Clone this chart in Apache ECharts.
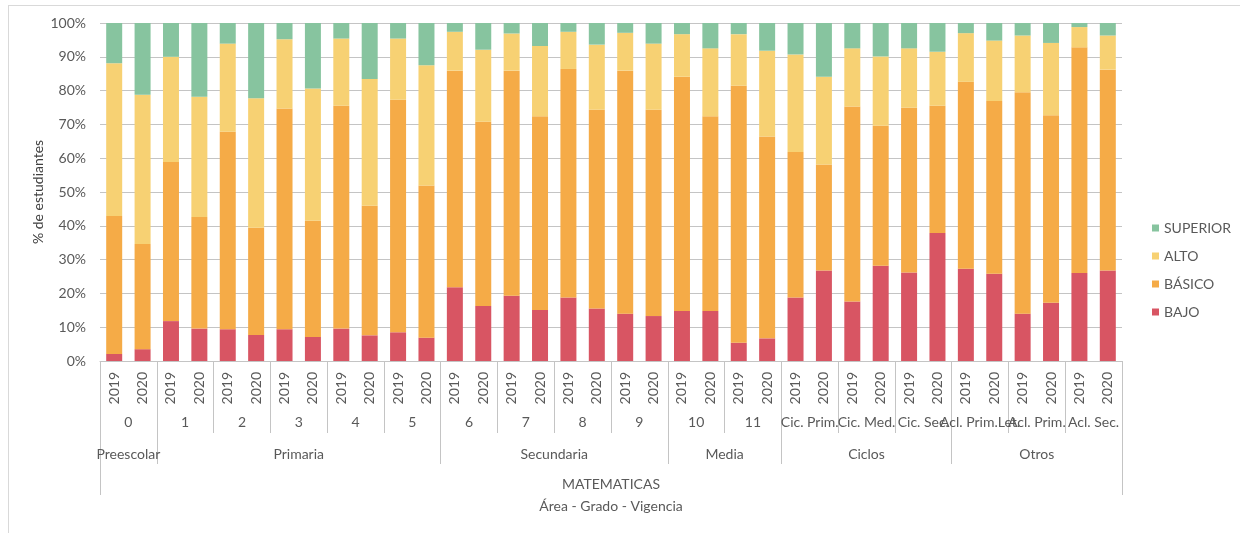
<!DOCTYPE html>
<html>
<head>
<meta charset="utf-8">
<script src="https://cdn.jsdelivr.net/npm/echarts@6/dist/echarts.min.js"></script>
<style>
  html, body { margin: 0; padding: 0; background: #fff; }
  #chart { width: 1240px; height: 533px; }
</style>
</head>
<body>
<div id="chart"></div>
<script>
// Desempeño en MATEMATICAS por nivel, grado y vigencia (% de estudiantes)
const years = ['2019', '2020'];
const grades = ['0', '1', '2', '3', '4', '5', '6', '7', '8', '9', '10', '11',
  'Cic. Prim.', 'Cic. Med.', 'Cic. Sec.', 'Acl. Prim.Let.', 'Acl. Prim.', 'Acl. Sec.'];
const levels = ['Preescolar', 'Primaria', 'Secundaria', 'Media', 'Ciclos', 'Otros'];
const levelGradeCount = [1, 5, 4, 2, 3, 3];
const area = 'MATEMATICAS';

const bajo = [2.1, 3.5, 11.8, 9.6, 9.4, 7.7, 9.4, 7.1, 9.6, 7.6, 8.5, 6.9,
  21.8, 16.3, 19.3, 15.1, 18.8, 15.5, 14.0, 13.3, 14.8, 14.8, 5.4, 6.7,
  18.8, 26.8, 17.6, 28.2, 26.2, 37.9, 27.3, 25.8, 14.0, 17.2, 26.0, 26.8];
const basico = [40.8, 31.1, 47.1, 33.0, 58.4, 31.7, 65.3, 34.4, 65.9, 38.3, 68.8, 45.0,
  64.1, 54.5, 66.6, 57.3, 67.6, 58.8, 71.9, 61.0, 69.3, 57.6, 76.0, 59.7,
  43.0, 31.3, 57.7, 41.4, 48.7, 37.6, 55.3, 51.1, 65.5, 55.5, 66.8, 59.4];
const alto = [45.2, 44.2, 31.1, 35.6, 26.1, 38.3, 20.5, 39.1, 19.9, 37.5, 18.1, 35.6,
  11.5, 21.3, 11.0, 20.8, 11.0, 19.3, 11.2, 19.6, 12.6, 20.1, 15.3, 25.4,
  28.9, 26.0, 17.2, 20.5, 17.6, 16.0, 14.4, 17.9, 16.8, 21.4, 6.0, 10.1];
const superior = [11.9, 21.2, 10.0, 21.8, 6.1, 22.3, 4.8, 19.4, 4.6, 16.6, 4.6, 12.5,
  2.6, 7.9, 3.1, 6.8, 2.6, 6.4, 2.9, 6.1, 3.3, 7.5, 3.3, 8.2,
  9.3, 15.9, 7.5, 9.9, 7.5, 8.5, 3.0, 5.2, 3.7, 5.9, 1.2, 3.7];

const seriesNames = ['BAJO', 'BÁSICO', 'ALTO', 'SUPERIOR'];
const seriesColors = ['#D85563', '#F5AB47', '#F7D173', '#87C49F'];
const seriesData = [bajo, basico, alto, superior];

// one year label per bar
const yearLabels = grades.flatMap(() => years);
const nBars = yearLabels.length;

// level boundaries and centres in bar units
const levelEdges = [0];
levelGradeCount.forEach(c => levelEdges.push(levelEdges[levelEdges.length - 1] + c * years.length));
const levelCenters = levels.map((_, i) => (levelEdges[i] + levelEdges[i + 1]) / 2);

const FONT = 'Lato, "Open Sans", sans-serif';
const FS = 14;
const TXT = '#595959';
const LINE = '#c4c4c4';

const chart = echarts.init(document.getElementById('chart'));
chart.setOption({
  animation: false,
  textStyle: { fontFamily: FONT },
  graphic: [
    { type: 'line', shape: { x1: 8, y1: 5.5, x2: 1240, y2: 5.5 }, style: { stroke: '#d9d9d9', lineWidth: 1 } },
    { type: 'line', shape: { x1: 8.5, y1: 5, x2: 8.5, y2: 533 }, style: { stroke: '#d9d9d9', lineWidth: 1 } }
  ],
  grid: { left: 100, right: 118, top: 23, bottom: 172, containLabel: false },
  legend: {
    orient: 'vertical',
    left: 1147,
    top: 215,
    itemWidth: 7,
    itemHeight: 7,
    itemGap: 12,
    icon: 'rect',
    textStyle: { color: TXT, fontSize: FS, fontFamily: FONT, lineHeight: 16 },
    data: ['SUPERIOR', 'ALTO', 'BÁSICO', 'BAJO']
  },
  xAxis: [
    {
      type: 'category',
      data: yearLabels,
      position: 'bottom',
      axisLine: { show: true, lineStyle: { color: LINE, width: 1 } },
      axisTick: { show: false },
      axisLabel: { interval: 0, rotate: 90, margin: 11, color: TXT, fontSize: FS, fontFamily: FONT }
    },
    {
      type: 'category',
      data: grades,
      position: 'bottom',
      axisLine: { show: false },
      axisTick: { show: true, interval: 0, length: 72, alignWithLabel: false, lineStyle: { color: LINE } },
      axisLabel: { interval: 0, margin: 54, color: TXT, fontSize: FS, fontFamily: FONT }
    },
    {
      type: 'value',
      min: 0,
      max: nBars,
      position: 'bottom',
      splitLine: { show: false },
      axisLine: { show: false },
      axisTick: { show: true, length: 103, customValues: levelEdges, lineStyle: { color: LINE } },
      axisLabel: {
        margin: 86, color: TXT, fontSize: FS, fontFamily: FONT,
        customValues: levelCenters,
        formatter: v => levels[levelCenters.indexOf(v)] || ''
      }
    },
    {
      type: 'value',
      min: 0,
      max: nBars,
      position: 'bottom',
      splitLine: { show: false },
      axisLine: { show: false },
      axisTick: { show: true, length: 134, customValues: [0, nBars], lineStyle: { color: LINE } },
      axisLabel: {
        margin: 116, color: TXT, fontSize: FS, fontFamily: FONT,
        customValues: [nBars / 2],
        formatter: () => area
      },
      name: 'Área - Grado - Vigencia',
      nameLocation: 'middle',
      nameGap: 138,
      nameMoveOverlap: false,
      nameTextStyle: { color: TXT, fontSize: FS, fontFamily: FONT }
    }
  ],
  yAxis: {
    type: 'value',
    min: 0,
    max: 100,
    interval: 10,
    axisLine: { show: false },
    axisTick: { show: false },
    splitLine: { show: true, lineStyle: { color: LINE, width: 1 } },
    axisLabel: { formatter: '{value}%', margin: 14, color: TXT, fontSize: FS, fontFamily: FONT },
    name: '% de estudiantes',
    nameLocation: 'middle',
    nameRotate: 90,
    nameGap: 55,
    nameMoveOverlap: false,
    nameTextStyle: { color: '#404040', fontSize: FS, fontFamily: FONT }
  },
  series: seriesNames.map((name, i) => ({
    name,
    type: 'bar',
    stack: 'total',
    barWidth: 16,
    itemStyle: { color: seriesColors[i] },
    data: seriesData[i]
  }))
});
</script>
</body>
</html>
